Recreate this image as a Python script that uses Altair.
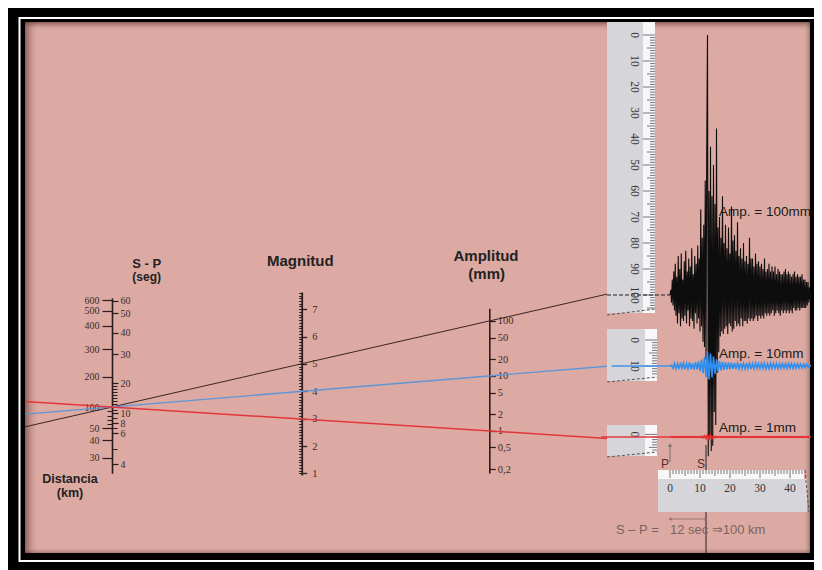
import altair as alt
import pandas as pd

# ---------------- values ----------------
dist_major = [30, 40, 50, 100, 200, 300, 400, 500, 600]
dist_minor = [60, 70, 80, 90]
sp_major = [4, 6, 8, 10, 20, 30, 40, 50, 60]
sp_minor = [5, 7, 9, 11, 12, 13, 14, 15, 16, 17, 18, 19]
mag_major = [1, 2, 3, 4, 5, 6, 7]
mag_minor = [round(0.1 * i, 1) for i in range(10, 77)]
amp_major = [0.2, 0.5, 1, 2, 5, 10, 20, 50, 100]

reading_dist_km = 100
reading_sp_s = 12
reading_amp_mm = [100, 10, 1]
reading_mag = [5, 4, 3]

arrival_phase = ["P", "S"]
arrival_t = [0, 12]

# black record (100 mm event), one sample every 0.25 s from the P arrival
black_dt = 0.25
black_mm = [0, 2, -3, 6, -4, 9, -6, 12, -8, 7,
            -11, 15, -7, 10, -12, 16, -9, 6, -10, 13,
            -8, 17, -11, 9, -6, 14, -12, 11, -9, 18,
            -10, 8, -13, 15, -7, 12, -11, 19, -9, 14,
            -14, 33, -12, 22, -18, 27, -20, 44, -25, 57,
            100, -62, 40, -55, 57, -60, 38, -58, 50, -45,
            35, -50, 64, -30, 26, -22, 30, -16, 22, -14,
            38, -15, 20, -13, 27, -12, 18, -15, 26, -11,
            16, -12, 34, -14, 21, -13, 23, -10, 17, -12,
            28, -11, 15, -12, 18, -9, 14, -12, 20, -10,
            13, -10, 15, -11, 12, -9, 22, -10, 14, -9,
            14, -10, 11, -9, 16, -8, 12, -10, 13, -8,
            11, -9, 12, -8, 10, -9, 14, -7, 9, -8,
            10, -7, 12, -8, 9, -7, 11, -6, 9, -8,
            11, -7, 8, -6, 10, -7, 9, -8, 8, -6,
            8, -7, 9, -6, 10, -7, 8, -6, 9, -7,
            8, -6, 7, -7, 8, -5, 9, -6, 7, -6,
            8, -5, 7, -6, 7, -5, 8, -5, 6, -5,
            6, -5, 5, -4, 5, -3, 3, -2, 0]

# blue (10 mm) and red (1 mm) records, one sample every 0.5 s
small_dt = 0.5
blue_mm = [0, 0.3, -0.8, 1.0, -1.1, 0.9, -1.2, 1.3, -0.9, 1.1,
           -1.3, 1.0, -1.0, 1.4, -1.2, 1.1, -1.4, 1.5, -1.3, 1.8,
           -2.0, 2.6, -2.8, 3.5, -4.2, 5.6, -5.2, 4.8, -4.4, 3.6,
           -3.0, 2.6, -2.2, 1.9, -1.7, 1.6, -1.5, 1.4, -1.3, 1.4,
           -1.2, 1.3, -1.1, 1.2, -1.2, 1.1, -1.0, 1.2, -1.1, 1.0,
           -1.1, 1.2, -1.0, 1.1, -1.2, 1.0, -1.0, 1.1, -0.9, 1.0,
           -1.0, 1.1, -0.9, 1.0, -1.0, 0.9, -1.0, 1.1, -0.9, 1.0,
           -0.9, 1.0, -1.0, 0.9, -0.9, 1.0, -0.8, 0.9, -0.9, 1.0,
           -0.8, 0.9, -0.9, 0.8, -0.8, 0.9, -0.7, 0.8, -0.8, 0.7,
           -0.6, 0.7, -0.5, 0.3, 0]
red_mm = [0, 0.1, -0.1, 0.12, -0.1, 0.1, -0.12, 0.1, -0.1, 0.12,
          -0.1, 0.1, -0.12, 0.1, -0.1, 0.12, -0.1, 0.1, -0.12, 0.15,
          -0.2, 0.25, -0.3, 0.45, -0.6, 0.9, -0.8, 0.65, -0.5, 0.35,
          -0.25, 0.2, -0.15, 0.12, -0.1, 0.1, -0.12, 0.1, -0.1, 0.12,
          -0.1, 0.1, -0.12, 0.1, -0.1, 0.12, -0.1, 0.1, -0.12, 0.1,
          -0.1, 0.12, -0.1, 0.1, -0.12, 0.1, -0.1, 0.12, -0.1, 0.1,
          -0.12, 0.1, -0.1, 0.12, -0.1, 0.1, -0.12, 0.1, -0.1, 0.12,
          -0.1, 0.1, -0.12, 0.1, -0.1, 0.12, -0.1, 0.1, -0.12, 0.1,
          -0.1, 0.12, -0.1, 0.1, -0.12, 0.1, -0.1, 0.12, -0.1, 0.1,
          -0.1, 0.08, -0.06, 0.04, 0]

ruler_black = list(range(0, 106))
ruler_blue = list(range(0, 14))
ruler_red = list(range(0, 7))
ruler_time = list(range(0, 45))

# ---------------- layout / style ----------------
W, H = 785, 531
def X(p):  # page x -> view x
    return p - 25
def Y(p):  # page y -> view y
    return p - 22

PINK = "#DCAAA2"
INK = "#2b1d1d"
LBL = "#3a2a2a"
SERIF = "Liberation Serif"
SANS = "Liberation Sans"
TICK = "#555560"
GREY = "#D5D5DA"
WHITE = "#F7F7F7"

one = pd.DataFrame({"k": [0]})

def box(x1, x2, y1, y2, **kw):
    return alt.Chart(one).mark_rect(**kw).encode(
        x=alt.value(X(x1)), x2=alt.value(X(x2)), y=alt.value(Y(y1)), y2=alt.value(Y(y2)))

def seg(x1, y1, x2, y2, **kw):
    return alt.Chart(one).mark_rule(**kw).encode(
        x=alt.value(X(x1)), x2=alt.value(X(x2)), y=alt.value(Y(y1)), y2=alt.value(Y(y2)))

def txt(s, x, y, size=12, font=SANS, weight="normal", color=INK, align="center"):
    return alt.Chart(one).mark_text(text=s, fontSize=size, font=font, fontWeight=weight,
                                    color=color, align=align, baseline="middle").encode(
        x=alt.value(X(x)), y=alt.value(Y(y)))

def sc(domain, rng, **kw):
    return alt.Scale(domain=domain, range=rng, nice=False, zero=False, **kw)

layers = []

# shadows inside the frame
def grad(c0, c1, horiz):
    return alt.Gradient(gradient="linear",
                        stops=[alt.GradientStop(color=c0, offset=0), alt.GradientStop(color=c1, offset=1)],
                        x1=0, x2=1 if horiz else 0, y1=0, y2=0 if horiz else 1)
dark = "rgba(70,30,25,0.55)"
clear = "rgba(220,170,162,0)"
layers.append(box(25, 39, 22, 553, color=grad(dark, clear, True)))
layers.append(box(25, 810, 22, 31, color=grad(dark, clear, False)))
layers.append(box(803, 810, 22, 553, color=grad(clear, "rgba(70,30,25,0.35)", True)))
layers.append(box(25, 810, 547, 553, color=grad(clear, "rgba(70,30,25,0.35)", False)))

# ---------------- nomogram scales & axes ----------------
dist_scale = sc([21, 30, 40, 50, 100, 200, 300, 400, 500, 600, 620],
                [Y(p) for p in [473.2, 457.7, 440.3, 428.3, 407, 376.7, 349.3, 325.7, 310.7, 300, 297.9]])
sp_scale = sc([3.4, 4, 6, 8, 10, 20, 30, 40, 50, 60, 62.4],
              [Y(p) for p in [473.2, 464, 433.3, 423.3, 413.3, 383.3, 354.3, 332.7, 313, 300.7, 297.9]])
mag_scale = sc([0.94, 7.63], [Y(475), Y(292)])
amp_scale = sc([0.171, 170], [Y(473.1), Y(308.3)], type="log")

def axis_layer(name, field, values, scale, **axis_kw):
    base = dict(grid=False, title=None, labelFont=SERIF, labelFontSize=10.5, labelColor=LBL,
                tickColor=INK, domainColor=INK, labelOverlap=False, values=values)
    base.update(axis_kw)
    return (alt.Chart(pd.DataFrame({field: values}))
            .mark_point(opacity=0, size=1)
            .encode(x=alt.value(0), y=alt.Y(f"{field}:Q", scale=scale, axis=alt.Axis(**base)))
            .properties(name=name))

XD, XM, XA = X(112), X(301.7), X(489.3)
layers += [
    axis_layer("dist", "km", dist_major, dist_scale, orient="left", offset=-XD, tickSize=10,
               tickWidth=1.2, domainWidth=1.6, labelPadding=3, format="d", labelFontSize=10),
    axis_layer("distminor", "km", dist_minor, dist_scale, orient="left", offset=-XD, tickSize=5,
               tickWidth=1, domain=False, labels=False),
    axis_layer("sp", "s", sp_major, sp_scale, orient="right", offset=XD - W, tickSize=6,
               tickWidth=1.2, domain=False, labelPadding=2, format="d", labelFontSize=10),
    axis_layer("spminor", "s", sp_minor, sp_scale, orient="right", offset=XD - W, tickSize=5,
               tickWidth=1, domain=False, labels=False),
    axis_layer("magminor", "m", mag_minor, mag_scale, orient="left", offset=-XM, tickSize=3,
               tickWidth=1, domainWidth=1.8, labels=False),
    axis_layer("mag", "m", mag_major, mag_scale, orient="right", offset=XM - W, tickSize=5,
               tickWidth=1.3, domain=False, labelPadding=5, format="d"),
    axis_layer("amp", "a", amp_major, amp_scale, orient="right", offset=XA - W, tickSize=6,
               tickWidth=1.2, domainWidth=1.6, labelPadding=2,
               labelExpr="datum.value < 1 ? replace(format(datum.value, '.1f'), '.', ',') : format(datum.value, 'd')"),
]

# titles
layers += [
    txt("S - P", 146.7, 263.5, size=13, weight="bold", color="#222"),
    txt("(seg)", 146.7, 276.5, size=12, weight="bold", color="#222"),
    txt("Magnitud", 300.3, 261, size=15, weight="bold", color="#222"),
    txt("Amplitud", 486, 256, size=15, weight="bold", color="#222"),
    txt("(mm)", 486.7, 273.5, size=15, weight="bold", color="#222"),
    txt("Distancia", 70, 478.5, size=12.5, weight="bold", color="#222"),
    txt("(km)", 70, 493, size=12.5, weight="bold", color="#222"),
]

# nomogram reading lines (through distance 100 km and each amplitude)
XL, XR = X(25), X(607)
def y_expr(xv):
    f = (xv - XD) / (XA - XD)
    return {"expr": f"scale('dist_y', datum.km) + (scale('amp_y', datum.a) - scale('dist_y', datum.km)) * ({f:.6f})"}

line_colors = ["#3b2424", "#5e96d8", "#e3363c"]
line_widths = [1.0, 1.4, 1.5]
for a, c, w in zip(reading_amp_mm, line_colors, line_widths):
    layers.append(alt.Chart(pd.DataFrame({"km": [reading_dist_km], "a": [a]})).mark_rule(
        color=c, strokeWidth=w).encode(
        x=alt.value(XL), x2=alt.value(XR), y={"value": y_expr(XL)}, y2={"value": y_expr(XR)}))

# ---------------- seismogram scales ----------------
tscale = sc([0, 40], [X(670), X(790)])
black_sc = sc([0, 100], [Y(295), Y(35)])
blue_sc = sc([0, 10], [Y(366), Y(340)])
red_sc = sc([0, 1], [Y(437), Y(434.4)])
rb_sc = sc([0, 100], [Y(35), Y(295)])
rbl_sc = sc([0, 10], [Y(340), Y(366)])
rr_sc = sc([0, 1], [Y(434.4), Y(437)])

# S arrival marker (under the ruler)
arr = pd.DataFrame({"phase": arrival_phase, "t": arrival_t})
layers.append(alt.Chart(arr).transform_filter("datum.phase == 'S'").mark_rule(color="#222", strokeWidth=1).encode(
    x=alt.X("t:Q", scale=tscale, axis=None), y=alt.value(Y(445)), y2=alt.value(Y(553))))

# vertical rulers
def vruler(x1, x2, xw, y1, y2, vals, scale, label_vals):
    out = [box(x1, xw, y1, y2, color=GREY), box(xw, x2, y1, y2, color=WHITE)]
    df = pd.DataFrame({"r": vals})
    for cond, ln in [("datum.r % 10 == 0", 12), ("datum.r % 5 == 0 && datum.r % 10 != 0", 8),
                     ("datum.r % 5 != 0", 5)]:
        out.append(alt.Chart(df).transform_filter(cond).mark_rule(color=TICK, strokeWidth=0.8).encode(
            x=alt.value(X(x2) - ln), x2=alt.value(X(x2)),
            y=alt.Y("r:Q", scale=scale, axis=None)))
    out.append(alt.Chart(pd.DataFrame({"r": label_vals})).mark_text(
        angle=90, font=SERIF, fontSize=11.5, color="#333").encode(
        x=alt.value(X(x1 + 27)), y=alt.Y("r:Q", scale=scale, axis=None), text="r:Q"))
    return out

layers += vruler(607, 655, 643, 22, 313, ruler_black, rb_sc, [0, 10, 20, 30, 40, 50, 60, 70, 80, 90, 100])
layers.append(seg(607, 315, 655, 309, color="#555", strokeDash=[3, 2], strokeWidth=1))
layers += vruler(607, 657, 645, 329, 381, ruler_blue, rbl_sc, [0, 10])
layers.append(seg(607, 382, 657, 377, color="#555", strokeDash=[3, 2], strokeWidth=1))
layers += vruler(607, 657, 645, 425, 456, ruler_red, rr_sc, [0])
layers.append(seg(607, 457, 657, 452, color="#555", strokeDash=[3, 2], strokeWidth=1))

# horizontal time ruler
layers.append(box(658, 807, 479, 512, color=GREY))
layers.append(box(658, 804, 470, 479, color=WHITE))
tdf = pd.DataFrame({"s": ruler_time})
for cond, ln in [("datum.s % 10 == 0", 8), ("datum.s % 5 == 0 && datum.s % 10 != 0", 6), ("datum.s % 5 != 0", 4)]:
    layers.append(alt.Chart(tdf).transform_filter(cond).mark_rule(color=TICK, strokeWidth=0.8).encode(
        x=alt.X("s:Q", scale=tscale, axis=None), y=alt.value(Y(470)), y2=alt.value(Y(470) + ln)))
layers.append(alt.Chart(pd.DataFrame({"s": [0, 10, 20, 30, 40]})).mark_text(
    font=SERIF, fontSize=11.5, color="#333").encode(
    x=alt.X("s:Q", scale=tscale, axis=None), y=alt.value(Y(489)), text="s:Q"))
layers.append(seg(805, 470, 809, 512, color="#555", strokeDash=[3, 2], strokeWidth=1))

# baselines crossing the rulers
layers.append(alt.Chart(pd.DataFrame({"t0": [-21], "t1": [0], "mm": [0]})).mark_rule(
    color="#222", strokeWidth=1, strokeDash=[4, 2]).encode(
    x=alt.X("t0:Q", scale=tscale, axis=None), x2="t1:Q", y=alt.Y("mm:Q", scale=black_sc, axis=None)))
layers.append(alt.Chart(pd.DataFrame({"t0": [-19.5], "t1": [0], "mm": [0]})).mark_rule(
    color="#3f95ea", strokeWidth=1.4).encode(
    x=alt.X("t0:Q", scale=tscale, axis=None), x2="t1:Q", y=alt.Y("mm:Q", scale=blue_sc, axis=None)))
layers.append(alt.Chart(pd.DataFrame({"t0": [-23], "t1": [0], "mm": [0]})).mark_rule(
    color="#e3363c", strokeWidth=1.5).encode(
    x=alt.X("t0:Q", scale=tscale, axis=None), x2="t1:Q", y=alt.Y("mm:Q", scale=red_sc, axis=None)))

# traces (time of each sample = sample index x sampling interval)
black_df = pd.DataFrame({"i": range(len(black_mm)), "mm": black_mm})
layers.append(alt.Chart(black_df).transform_calculate(t=f"datum.i * {black_dt}").mark_line(
    color="#0d0d0d", strokeWidth=1.1).encode(
    x=alt.X("t:Q", scale=tscale, axis=None), y=alt.Y("mm:Q", scale=black_sc, axis=None)))
for vals, scale, col, w in [(blue_mm, blue_sc, "#2f8ff0", 1.6),
                            (red_mm, red_sc, "#e8262b", 1.7)]:
    df = pd.DataFrame({"i": range(len(vals)), "mm": vals})
    layers.append(alt.Chart(df).transform_calculate(t=f"datum.i * {small_dt}").mark_line(
        color=col, strokeWidth=w).encode(
        x=alt.X("t:Q", scale=tscale, axis=None), y=alt.Y("mm:Q", scale=scale, axis=None)))

# amplitude annotations
for a, py in zip(reading_amp_mm, [212, 353.5, 427.5]):
    layers.append(txt(f"Amp. = {a}mm", 719, py, size=13.5, color="#1a1a1a", align="left"))

# P arrow and phase letters
layers.append(alt.Chart(arr).transform_filter("datum.phase == 'P'").mark_rule(color="#7a6a6a", strokeWidth=1).encode(
    x=alt.X("t:Q", scale=tscale, axis=None), y=alt.value(Y(462)), y2=alt.value(Y(445))))
layers.append(alt.Chart(arr).transform_filter("datum.phase == 'P'").mark_point(
    shape="triangle-up", filled=True, size=16, color="#7a6a6a", opacity=1).encode(
    x=alt.X("t:Q", scale=tscale, axis=None), y=alt.value(Y(445))))
layers.append(alt.Chart(arr).mark_text(font=SANS, fontSize=12, color="#5a2d2d", dx=-5).encode(
    x=alt.X("t:Q", scale=tscale, axis=None), y=alt.value(Y(464)), text="phase:N"))

# S-P interval arrow and statement
layers.append(alt.Chart(pd.DataFrame({"t0": [arrival_t[0]], "t1": [arrival_t[1]]})).mark_rule(
    color="#8a7070", strokeWidth=0.8).encode(
    x=alt.X("t0:Q", scale=tscale, axis=None), x2="t1:Q", y=alt.value(Y(519))))
for ph, shp in [("P", "triangle-left"), ("S", "triangle-right")]:
    layers.append(alt.Chart(arr).transform_filter(f"datum.phase == '{ph}'").mark_point(
        shape=shp, filled=True, size=12, color="#8a7070", opacity=1).encode(
        x=alt.X("t:Q", scale=tscale, axis=None), y=alt.value(Y(519))))
layers.append(txt("S – P =", 616, 530, size=13, color="#7b6262", align="left"))
layers.append(txt(f"{reading_sp_s} sec ⇒{reading_dist_km} km", 670, 530, size=13,
                  font="Liberation Sans, DejaVu Sans", color="#7b6262", align="left"))

# white frame line (right side falls outside the page, like the reference)
layers.append(box(19.5, 840, 18, 561, filled=False, stroke="white", strokeWidth=2, fillOpacity=0))

chart = alt.layer(*layers).resolve_scale(x="independent", y="independent").properties(
    width=W, height=H,
    padding={"left": 17, "top": 14, "right": 4, "bottom": 17},
    autosize=alt.AutoSizeParams(type="none"),
    background="black",
).configure_view(fill=PINK, stroke=None)

chart.save("out.html", embed_options={"renderer": "svg", "actions": False})
